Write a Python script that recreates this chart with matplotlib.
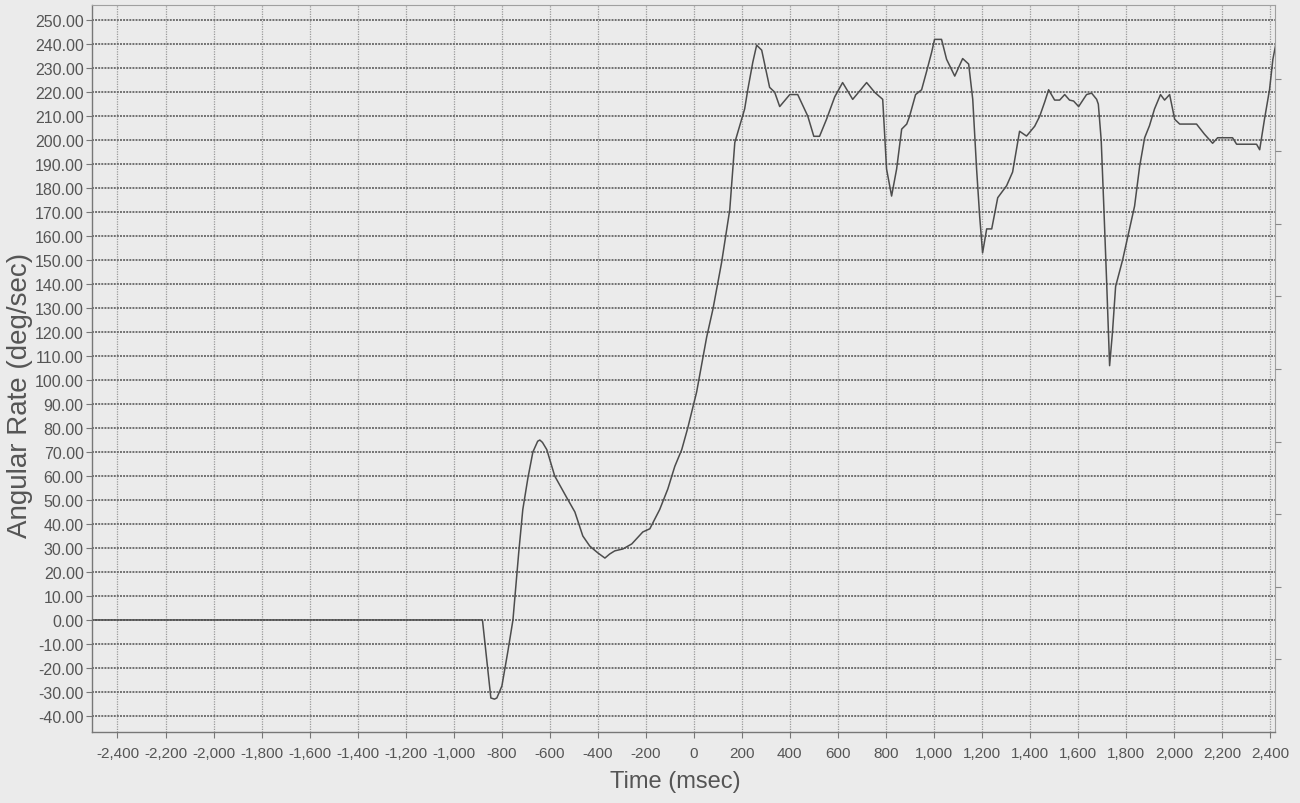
"""
Angular rate vs time trace, redrawn from a scanned chart.
"""
import matplotlib
matplotlib.use('Agg')
import matplotlib.pyplot as plt
from matplotlib.ticker import FuncFormatter

# 读图得到的数据点 (msec, deg/sec)
time_ms = [-2500, -880, -845, -830, -820, -799, -774, -753, -729, -712, -691,
           -670, -650, -641, -630, -612, -579, -529, -495, -462, -433, -400,
           -370, -350, -329, -295, -258, -212, -183, -142, -108, -79, -50, -25,
           12, 54, 80, 116, 150, 171, 212, 225, 246, 262, 283, 316, 337, 358,
           400, 433, 475, 500, 524, 553, 587, 620, 662, 720, 753, 787, 803,
           824, 845, 866, 887, 899, 924, 949, 970, 991, 1003, 1032, 1053, 1087,
           1120, 1145, 1162, 1178, 1191, 1203, 1220, 1241, 1266, 1303, 1328,
           1357, 1386, 1420, 1441, 1462, 1478, 1503, 1524, 1545, 1565, 1582,
           1603, 1636, 1657, 1678, 1685, 1697, 1708, 1720, 1732, 1744, 1757,
           1786, 1836, 1857, 1878, 1898, 1919, 1944, 1961, 1982, 2003, 2024,
           2094, 2127, 2161, 2182, 2244, 2261, 2344, 2357, 2377, 2398, 2412,
           2430]
rate_dps = [0.0, 0.0, -32.5, -33.0, -32.5, -27.5, -13.0, 0.0, 28.0, 46.0, 59.0,
            70.0, 74.5, 75.0, 74.0, 71.0, 60.0, 51.0, 45.0, 35.0, 30.8, 28.0,
            25.8, 27.5, 28.8, 29.6, 31.7, 36.7, 38.0, 46.0, 54.6, 64.0, 71.0,
            80.0, 95.0, 118.0, 129.6, 149.0, 171.0, 199.0, 213.0, 221.0, 232.5,
            239.6, 237.5, 222.0, 220.0, 214.0, 219.0, 219.0, 210.0, 201.6,
            201.6, 208.7, 218.0, 224.0, 217.0, 224.0, 220.0, 217.0, 188.0,
            176.7, 188.0, 204.6, 206.7, 210.0, 219.0, 221.0, 228.7, 236.7,
            242.0, 242.0, 233.7, 226.7, 234.0, 231.7, 217.0, 188.0, 168.0,
            153.0, 163.0, 163.0, 176.0, 181.0, 186.7, 203.7, 201.7, 205.8,
            210.0, 216.0, 221.0, 216.7, 216.7, 219.0, 216.7, 216.3, 214.0,
            219.0, 219.6, 217.0, 215.0, 200.0, 172.0, 140.0, 106.0, 120.0,
            139.0, 150.0, 172.5, 189.0, 201.0, 206.0, 213.0, 219.0, 216.7,
            219.0, 208.7, 206.7, 206.7, 202.5, 198.7, 201.0, 201.0, 198.3,
            198.3, 196.0, 208.7, 221.0, 233.7, 243.0]

x_ticks = list(range(-2400, 2401, 200))
y_ticks = list(range(-40, 251, 10))
# 右侧无标签的短刻度
right_ticks = [-16.25, 13.75, 44.0, 74.0, 104.6, 135.0, 165.0, 195.4, 225.4]

BG = '#ebebeb'
plt.rcParams['font.family'] = ['Liberation Sans', 'DejaVu Sans']

fig = plt.figure(figsize=(13, 8.04), dpi=100, facecolor=BG)
ax = fig.add_axes([0.0708, 0.0883, 0.91, 0.904])
ax.set_facecolor(BG)

ax.set_xlim(-2506, 2421)
ax.set_ylim(-46.7, 256.25)

ax.set_xticks(x_ticks)
ax.set_yticks(y_ticks)
ax.xaxis.set_major_formatter(FuncFormatter(lambda v, p: f"{int(v):,}"))
ax.yaxis.set_major_formatter(FuncFormatter(lambda v, p: f"{v:.2f}"))

# 网格：横线较深，竖线较浅
ax.grid(True, axis='y', color='#707070', linewidth=1.4, linestyle=(0, (1, 0.6)))
ax.grid(True, axis='x', color='#9a9a9a', linewidth=0.9, linestyle=(0, (1, 1)))
ax.set_axisbelow(True)

ax.plot(time_ms, rate_dps, color='#4d4d4d', linewidth=1.1)

ax.tick_params(axis='both', direction='out', length=4, width=0.8,
               color='#777777', labelcolor='#555555')
ax.tick_params(axis='y', labelsize=11.5, pad=2)
ax.tick_params(axis='x', labelsize=11, pad=6)

for side in ['left', 'bottom']:
    ax.spines[side].set_color('#777777')
    ax.spines[side].set_linewidth(1.0)
for side in ['top', 'right']:
    ax.spines[side].set_color('#a0a0a0')
    ax.spines[side].set_linewidth(0.8)
    ax.spines[side].set_linestyle((0, (1, 1)))

ax2 = ax.twinx()
ax2.set_ylim(ax.get_ylim())
ax2.set_yticks(right_ticks)
ax2.set_yticklabels([])
ax2.tick_params(axis='y', direction='out', length=4, width=0.8, color='#888888')
for s in ax2.spines.values():
    s.set_visible(False)

ax.set_xlabel("Time (msec)", fontsize=17, color='#555555')
ax.xaxis.set_label_coords(0.493, -0.052)
ax.set_ylabel("Angular Rate (deg/sec)", fontsize=20, color='#555555')
ax.yaxis.set_label_coords(-0.061, 0.465)
ax.yaxis.label.set_verticalalignment('center')

fig.savefig("out.png", dpi=100, facecolor=BG)
